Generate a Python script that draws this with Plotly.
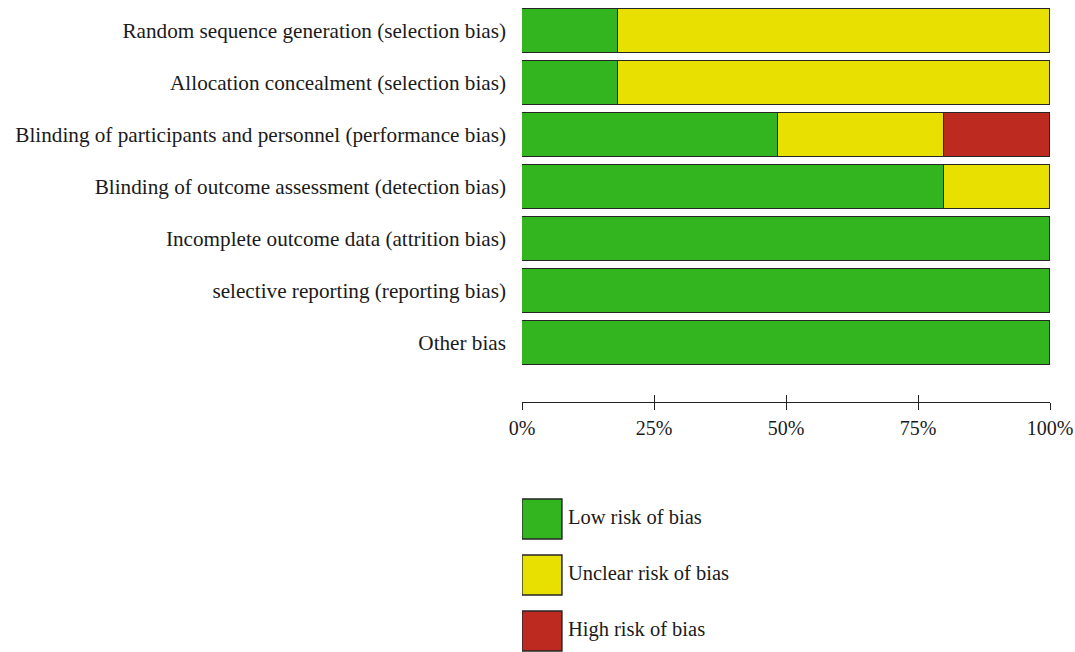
import plotly.graph_objects as go

domains = [
    "Random sequence generation (selection bias)",
    "Allocation concealment (selection bias)",
    "Blinding of participants and personnel (performance bias)",
    "Blinding of outcome assessment (detection bias)",
    "Incomplete outcome data (attrition bias)",
    "selective reporting (reporting bias)",
    "Other bias",
]
low_risk = [18.2, 18.2, 48.5, 80.0, 100.0, 100.0, 100.0]
unclear_risk = [81.8, 81.8, 31.5, 20.0, 0.0, 0.0, 0.0]
high_risk = [0.0, 0.0, 20.0, 0.0, 0.0, 0.0, 0.0]

legend_labels = ["Low risk of bias", "Unclear risk of bias", "High risk of bias"]
colors = ["#33b51f", "#e8e001", "#bd2a1f"]
tick_vals = [0, 25, 50, 75, 100]
tick_text = ["0%", "25%", "50%", "75%", "100%"]

W, H = 1075, 652
FONT = "Liberation Serif"
TXT = "#1a1a1a"
EDGE = "#262626"

fig = go.Figure()
for name, vals, col in zip(legend_labels, [low_risk, unclear_risk, high_risk], colors):
    fig.add_trace(go.Bar(
        y=domains, x=[v if v > 0 else None for v in vals], orientation="h",
        name=name, marker=dict(color=col, line=dict(color=EDGE, width=1.5)),
        width=0.83, showlegend=False, hoverinfo="x+y",
    ))

# custom legend with large swatches
fig.add_trace(go.Scatter(
    x=[0.036] * 3, y=legend_labels, mode="markers+text",
    marker=dict(symbol="square", size=40, color=colors, line=dict(color=EDGE, width=1.5)),
    text=legend_labels, textposition="middle right",
    textfont=dict(family=FONT, size=20.5, color=TXT),
    xaxis="x2", yaxis="y2", showlegend=False, hoverinfo="text",
))
# dummy trace so the overlay axis (upward tick marks) renders
fig.add_trace(go.Scatter(x=[None], y=[None], xaxis="x3", yaxis="y",
                         showlegend=False, hoverinfo="skip"))

x0, x1 = 522 / W, 1050 / W
axis_pos = 1 - 402 / H

fig.update_layout(
    template="none",
    width=W, height=H, margin=dict(l=0, r=0, t=0, b=0, pad=0),
    paper_bgcolor="white", plot_bgcolor="white",
    barmode="stack", bargap=0,
    font=dict(family=FONT, size=21.2, color=TXT),
    xaxis=dict(domain=[x0, x1], range=[0, 100], anchor="free", position=axis_pos,
               tickvals=tick_vals, ticktext=tick_text, ticks="outside", ticklen=7,
               tickwidth=1.2, tickcolor="#222", showline=True, linecolor="#222", linewidth=1.2,
               showgrid=False, zeroline=False, fixedrange=True, ticklabelstandoff=1,
               tickfont=dict(size=20), automargin=False),
    xaxis3=dict(domain=[x0, x1], range=[0, 100], overlaying="x", anchor="free", position=axis_pos,
                tickvals=tick_vals, showticklabels=False, ticks="inside", ticklen=7,
                tickwidth=1.2, tickcolor="#222", showline=False, showgrid=False,
                zeroline=False, automargin=False, fixedrange=True),
    yaxis=dict(domain=[1 - 369 / H, 1 - 5 / H], range=[6.5, -0.5], type="category",
               showgrid=False, zeroline=False, showline=False, ticks="", ticklabelstandoff=15,
               fixedrange=True, automargin=False),
    xaxis2=dict(domain=[x0, 1], range=[0, 1], anchor="y2", visible=False, fixedrange=True,
                automargin=False),
    yaxis2=dict(domain=[0, (H - 491) / H], range=[2.375, -0.5], type="category",
                anchor="x2", visible=False, fixedrange=True, automargin=False),
)

fig.write_html(
    "out.html",
    config={"displayModeBar": False},
    post_script="document.body.style.margin='0px';document.body.style.overflow='hidden';",
)
